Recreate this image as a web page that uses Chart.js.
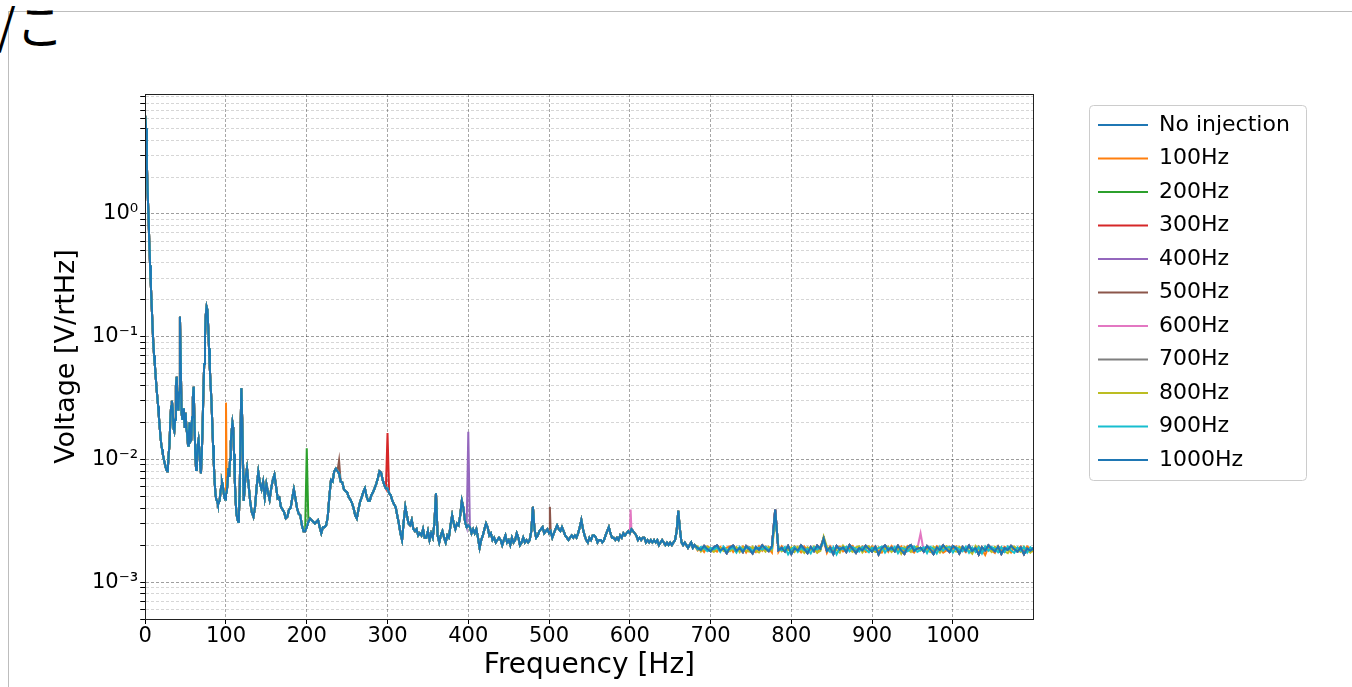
<!DOCTYPE html>
<html>
<head>
<meta charset="utf-8">
<script src="https://cdn.jsdelivr.net/npm/chart.js@4.4.0/dist/chart.umd.min.js"></script>
<style>
  html, body { margin: 0; padding: 0; background: #fff; overflow: hidden; }
  #lineTop { position: absolute; left: 8px; top: 11px; width: 1344px; height: 1px; background: #bdbdbd; }
  #lineLeft { position: absolute; left: 8px; top: 11px; width: 1px; height: 676px; background: #bdbdbd; }
  #note { position: absolute; left: -3px; top: -1px; font: 48px/1 "Noto Sans CJK JP"; color: #000; }
  #wrap { position: absolute; left: 0; top: 0; width: 1352px; height: 687px; }
</style>
</head>
<body>
<div id="lineTop"></div>
<div id="lineLeft"></div>
<div id="note">/こ</div>
<div id="wrap"><canvas id="spec"></canvas></div>
<script>
const seriesNames = ["No injection", "100Hz", "200Hz", "300Hz", "400Hz", "500Hz",
  "600Hz", "700Hz", "800Hz", "900Hz", "1000Hz"];
const seriesColors = ["#1f77b4", "#ff7f0e", "#2ca02c", "#d62728", "#9467bd", "#8c564b",
  "#e377c2", "#7f7f7f", "#bcbd22", "#17becf", "#1f77b4"];

// shared spectrum, 1 Hz bins from 0 to 120 Hz
const lowStart = 0, lowStep = 1;
const lowVals = [
  6.3, 5.0, 2.6, 1.5, 1.0, 0.6, 0.38, 0.26, 0.18, 0.125,
  0.089, 0.07, 0.058, 0.047, 0.038, 0.032, 0.027, 0.022, 0.018, 0.015,
  0.013, 0.012, 0.0108, 0.0100, 0.0094, 0.0088, 0.0083, 0.0080, 0.0084, 0.011,
  0.013, 0.020, 0.027, 0.030, 0.026, 0.018, 0.017, 0.021, 0.040, 0.047,
  0.030, 0.025, 0.035, 0.145, 0.06, 0.024, 0.021, 0.026, 0.023, 0.018,
  0.024, 0.018, 0.016, 0.013, 0.0155, 0.020, 0.014, 0.0144, 0.022, 0.032,
  0.039, 0.020, 0.011, 0.0082, 0.010, 0.013, 0.0144, 0.012, 0.009, 0.0077,
  0.011, 0.018, 0.035, 0.06, 0.10, 0.15, 0.175, 0.165, 0.12, 0.08,
  0.055, 0.040, 0.030, 0.020, 0.013, 0.009, 0.0065, 0.0052, 0.0047, 0.0046,
  0.0043, 0.0044, 0.0046, 0.0052, 0.0060, 0.0066, 0.0062, 0.0054, 0.0049, 0.0047,
  0.0052, 0.0055, 0.0065, 0.0085, 0.0072, 0.010, 0.014, 0.017, 0.020, 0.018,
  0.011, 0.0065, 0.0045, 0.0036, 0.0033, 0.0031, 0.0035, 0.0055, 0.016, 0.038,
  0.022
];
// 2 Hz bins from 122 to 680 Hz
const midStart = 122, midStep = 2;
const midVals = [
  0.0046, 0.0070, 0.0085, 0.0062, 0.0045, 0.0037, 0.0034, 0.0041, 0.0060, 0.0079,
  0.0064, 0.0057, 0.0066, 0.0049, 0.0063, 0.0054, 0.0047, 0.0058, 0.0068, 0.0075,
  0.0060, 0.0048, 0.0049, 0.0041, 0.0039, 0.0037, 0.0033, 0.0034, 0.0039, 0.0040,
  0.0048, 0.0057, 0.0048, 0.0040, 0.0036, 0.0035, 0.0029, 0.0026, 0.0026, 0.0028,
  0.0031, 0.0033, 0.0032, 0.0031, 0.0030, 0.0031, 0.0032, 0.0028, 0.0025, 0.0028,
  0.0028, 0.0029, 0.0034, 0.0050, 0.0068, 0.0066, 0.0080, 0.0084, 0.0080, 0.0077,
  0.0066, 0.0065, 0.0057, 0.0055, 0.0054, 0.0049, 0.0047, 0.0044, 0.0040, 0.0035,
  0.0033, 0.0039, 0.0045, 0.0049, 0.0054, 0.0058, 0.0050, 0.0046, 0.0046, 0.0051,
  0.0054, 0.0058, 0.0063, 0.0070, 0.0080, 0.0078, 0.0068, 0.0062, 0.0058, 0.0058,
  0.0053, 0.0051, 0.0046, 0.0043, 0.0041, 0.0035, 0.0030, 0.0025, 0.0022, 0.0031,
  0.0041, 0.0035, 0.0030, 0.0029, 0.0032, 0.0027, 0.0026, 0.0027, 0.0024, 0.0025,
  0.0024, 0.0027, 0.0023, 0.0023, 0.0026, 0.0022, 0.0025, 0.0023, 0.0030, 0.0053,
  0.0024, 0.0021, 0.0024, 0.0026, 0.0023, 0.0021, 0.0024, 0.0023, 0.0029, 0.0035,
  0.0030, 0.0027, 0.0030, 0.0029, 0.0035, 0.0046, 0.0040, 0.0031, 0.0028, 0.0029,
  0.0028, 0.0025, 0.0027, 0.0025, 0.0027, 0.0023, 0.0019, 0.0022, 0.0024, 0.0027,
  0.0030, 0.0028, 0.0024, 0.0025, 0.0022, 0.0023, 0.0021, 0.0022, 0.0023, 0.0022,
  0.0020, 0.0022, 0.0024, 0.0021, 0.0022, 0.0020, 0.0023, 0.0021, 0.0022, 0.0025,
  0.0023, 0.0020, 0.0021, 0.0023, 0.0021, 0.0022, 0.0021, 0.0022, 0.0026, 0.0041,
  0.0027, 0.0023, 0.0024, 0.0026, 0.0027, 0.0028, 0.0025, 0.0026, 0.0027, 0.0025,
  0.0026, 0.0023, 0.0025, 0.0027, 0.0029, 0.0027, 0.0026, 0.0028, 0.0026, 0.0024,
  0.0023, 0.0022, 0.0023, 0.0024, 0.0023, 0.0024, 0.0023, 0.0025, 0.0028, 0.0032,
  0.0027, 0.0024, 0.0022, 0.0021, 0.0023, 0.0022, 0.0024, 0.0024, 0.0023, 0.0021,
  0.0022, 0.0022, 0.0021, 0.0022, 0.0024, 0.0026, 0.0028, 0.0025, 0.0023, 0.0023,
  0.0022, 0.0023, 0.0022, 0.0024, 0.0023, 0.0025, 0.0024, 0.0025, 0.0026, 0.0025,
  0.0027, 0.0026, 0.0025, 0.0024, 0.0022, 0.0023, 0.0022, 0.0023, 0.0023, 0.0021,
  0.0022, 0.0021, 0.0022, 0.0021, 0.0022, 0.0021, 0.0022, 0.0020, 0.0021, 0.0022,
  0.0021, 0.0020, 0.0021, 0.0020, 0.0021, 0.0020, 0.0021, 0.0022, 0.0026, 0.0038,
  0.0027, 0.0021, 0.0020, 0.0021, 0.0020, 0.0019, 0.0020, 0.0021, 0.0019, 0.0020
];
// 4 Hz bins from 684 to 1100 Hz (floor of the 1000Hz / no-injection traces)
const highStart = 684, highStep = 4;
const highVals = [
  0.00190, 0.00182, 0.00197, 0.00186, 0.00178, 0.00192, 0.00199, 0.00181, 0.00188, 0.00172,
  0.00191, 0.00198, 0.00180, 0.00189, 0.00176, 0.00196, 0.00185, 0.00171, 0.00193, 0.00183,
  0.00199, 0.00187, 0.00179, 0.00196, 0.00390, 0.00182, 0.00190, 0.00177, 0.00197, 0.00170,
  0.00188, 0.00181, 0.00199, 0.00186, 0.00172, 0.00193, 0.00179, 0.00198, 0.00187, 0.00228,
  0.00180, 0.00191, 0.00169, 0.00197, 0.00183, 0.00192, 0.00176, 0.00200, 0.00186, 0.00173,
  0.00190, 0.00181, 0.00198, 0.00187, 0.00177, 0.00194, 0.00168, 0.00189, 0.00199, 0.00182,
  0.00191, 0.00178, 0.00197, 0.00181, 0.00170, 0.00192, 0.00200, 0.00180, 0.00188, 0.00190,
  0.00177, 0.00196, 0.00185, 0.00169, 0.00191, 0.00182, 0.00199, 0.00186, 0.00176, 0.00197,
  0.00188, 0.00171, 0.00193, 0.00180, 0.00198, 0.00179, 0.00190, 0.00168, 0.00192, 0.00181,
  0.00199, 0.00187, 0.00178, 0.00194, 0.00170, 0.00189, 0.00183, 0.00197, 0.00186, 0.00177,
  0.00191, 0.00169, 0.00188, 0.00180, 0.00190
];
// floor of the 100Hz trace, same bins
const highVals100 = [
  0.00181, 0.00190, 0.00176, 0.00195, 0.00189, 0.00183, 0.00177, 0.00194, 0.00182, 0.00191,
  0.00196, 0.00176, 0.00190, 0.00183, 0.00195, 0.00174, 0.00193, 0.00188, 0.00176, 0.00196,
  0.00180, 0.00195, 0.00188, 0.00174, 0.00370, 0.00176, 0.00196, 0.00184, 0.00190, 0.00180,
  0.00196, 0.00187, 0.00175, 0.00195, 0.00181, 0.00190, 0.00185, 0.00174, 0.00196, 0.00220,
  0.00173, 0.00196, 0.00180, 0.00191, 0.00195, 0.00178, 0.00190, 0.00186, 0.00197, 0.00180,
  0.00185, 0.00195, 0.00176, 0.00181, 0.00195, 0.00186, 0.00180, 0.00174, 0.00192, 0.00176,
  0.00197, 0.00183, 0.00181, 0.00195, 0.00177, 0.00196, 0.00181, 0.00174, 0.00192, 0.00186,
  0.00183, 0.00190, 0.00177, 0.00180, 0.00196, 0.00188, 0.00174, 0.00181, 0.00195, 0.00187,
  0.00195, 0.00180, 0.00186, 0.00175, 0.00192, 0.00186, 0.00181, 0.00196, 0.00184, 0.00166,
  0.00193, 0.00181, 0.00173, 0.00196, 0.00182, 0.00194, 0.00187, 0.00174, 0.00192, 0.00187,
  0.00195, 0.00178, 0.00195, 0.00186, 0.00176
];
// floor of the 800Hz trace
const highVals800 = [
  0.00195, 0.00177, 0.00189, 0.00194, 0.00183, 0.00176, 0.00191, 0.00190, 0.00179, 0.00186,
  0.00178, 0.00187, 0.00193, 0.00175, 0.00192, 0.00180, 0.00177, 0.00194, 0.00180, 0.00174,
  0.00188, 0.00177, 0.00194, 0.00182, 0.00350, 0.00194, 0.00178, 0.00186, 0.00182, 0.00192,
  0.00176, 0.00194, 0.00183, 0.00173, 0.00192, 0.00183, 0.00195, 0.00174, 0.00180, 0.00235,
  0.00194, 0.00181, 0.00186, 0.00183, 0.00174, 0.00198, 0.00185, 0.00183, 0.00176, 0.00192,
  0.00196, 0.00174, 0.00187, 0.00196, 0.00183, 0.00176, 0.00192, 0.00180, 0.00186, 0.00194,
  0.00176, 0.00186, 0.00191, 0.00170, 0.00194, 0.00185, 0.00176, 0.00192, 0.00195, 0.00180,
  0.00188, 0.00183, 0.00176, 0.00194, 0.00186, 0.00174, 0.00190, 0.00196, 0.00184, 0.00181,
  0.00177, 0.00194, 0.00184, 0.00192, 0.00181, 0.00170, 0.00197, 0.00183, 0.00180, 0.00194,
  0.00185, 0.00176, 0.00194, 0.00184, 0.00192, 0.00178, 0.00172, 0.00190, 0.00195, 0.00183,
  0.00176, 0.00194, 0.00182, 0.00174, 0.00186
];
// floor of the 900Hz trace
const highVals900 = [
  0.00184, 0.00193, 0.00188, 0.00179, 0.00190, 0.00185, 0.00191, 0.00176, 0.00195, 0.00181,
  0.00186, 0.00190, 0.00174, 0.00194, 0.00182, 0.00188, 0.00192, 0.00179, 0.00186, 0.00191,
  0.00184, 0.00194, 0.00183, 0.00188, 0.00360, 0.00188, 0.00182, 0.00193, 0.00168, 0.00185,
  0.00194, 0.00176, 0.00190, 0.00181, 0.00186, 0.00171, 0.00192, 0.00184, 0.00194, 0.00212,
  0.00188, 0.00176, 0.00193, 0.00168, 0.00190, 0.00185, 0.00194, 0.00178, 0.00192, 0.00186,
  0.00177, 0.00193, 0.00184, 0.00175, 0.00191, 0.00183, 0.00189, 0.00195, 0.00174, 0.00190,
  0.00183, 0.00194, 0.00172, 0.00190, 0.00186, 0.00178, 0.00188, 0.00195, 0.00176, 0.00183,
  0.00192, 0.00172, 0.00194, 0.00186, 0.00171, 0.00195, 0.00180, 0.00190, 0.00193, 0.00174,
  0.00192, 0.00185, 0.00178, 0.00194, 0.00173, 0.00191, 0.00176, 0.00193, 0.00171, 0.00195,
  0.00180, 0.00193, 0.00187, 0.00175, 0.00193, 0.00176, 0.00195, 0.00181, 0.00173, 0.00192,
  0.00180, 0.00193, 0.00174, 0.00192, 0.00182
];
const floorSeries = [1, 8, 9];
const floorVals = [highVals100, highVals800, highVals900];

// lines that show up in one trace only: series index, frequency [Hz], value
const spikeSeries = [1, 2, 3, 4, 5, 5, 6, 6];
const spikeFreq = [100, 200, 300, 400, 240, 501, 601, 960];
const spikeVal = [0.029, 0.0123, 0.0164, 0.0168, 0.0098, 0.0041, 0.0039, 0.0025];

const supChars = {"-": "⁻", "0": "⁰", "1": "¹", "2": "²", "3": "³", "4": "⁴",
  "5": "⁵", "6": "⁶", "7": "⁷", "8": "⁸", "9": "⁹"};

function mantissa(v) {
  const e = Math.floor(Math.log10(v) + 1e-9);
  return v / Math.pow(10, e);
}
function isDecade(v) { return Math.abs(mantissa(v) - 1) < 1e-6; }
function isWhole(v) { const m = mantissa(v); return Math.abs(m - Math.round(m)) < 1e-6; }

function spectrumFor(s) {
  const k = floorSeries.indexOf(s);
  const high = k >= 0 ? floorVals[k] : highVals;
  const pts = [];
  lowVals.forEach((v, i) => pts.push({x: lowStart + i * lowStep, y: v}));
  midVals.forEach((v, i) => pts.push({x: midStart + i * midStep, y: v}));
  high.forEach((v, i) => pts.push({x: highStart + i * highStep, y: v}));
  return pts;
}

const datasets = seriesNames.map((name, s) => {
  const pts = spectrumFor(s);
  spikeSeries.forEach((k, j) => {
    if (k !== s) return;
    const hit = pts.find(p => p.x === spikeFreq[j]);
    if (hit) hit.y = spikeVal[j];
    else pts.push({x: spikeFreq[j], y: spikeVal[j]});
  });
  pts.sort((a, b) => a.x - b.x);
  return {
    label: name,
    data: pts,
    borderColor: seriesColors[s],
    backgroundColor: seriesColors[s],
    borderWidth: 2,
    pointRadius: 0,
    tension: 0,
    order: seriesNames.length - s  // later traces drawn on top, like matplotlib
  };
});

const LEG_PAD = 11.5;

const framePlugin = {
  id: "frames",
  afterLayout(chart) {
    // move the legend to where matplotlib put it
    const lg = chart.legend;
    const dx = (1098 - LEG_PAD) - lg.left;
    const dy = (114 - LEG_PAD) - lg.top;
    lg.left += dx; lg.right += dx;
    lg.top += dy; lg.bottom += dy;
  },
  beforeDraw(chart) {
    const lg = chart.legend;
    const ctx = chart.ctx;
    const x = lg.left + LEG_PAD - 9, y = lg.top + LEG_PAD - 9;
    ctx.save();
    ctx.fillStyle = "rgba(255,255,255,0.8)";
    ctx.strokeStyle = "#cccccc";
    ctx.lineWidth = 1;
    ctx.beginPath();
    ctx.roundRect(x + 0.5, y + 0.5, 217, 375, 4);
    ctx.fill();
    ctx.stroke();
    ctx.restore();
  },
  afterDraw(chart) {
    const a = chart.chartArea;
    const ctx = chart.ctx;
    ctx.save();
    ctx.strokeStyle = "#222";
    ctx.lineWidth = 1;
    ctx.strokeRect(Math.round(a.left) + 0.5, Math.round(a.top) + 0.5,
      Math.round(a.right - a.left), Math.round(a.bottom - a.top));
    ctx.restore();
  }
};

Chart.defaults.font.family = "DejaVu Sans";
Chart.defaults.color = "#000";

new Chart(document.getElementById("spec"), {
  type: "line",
  data: {datasets: datasets},
  options: {
    responsive: true,
    maintainAspectRatio: false,
    animation: false,
    events: [],
    layout: {padding: {left: 39, top: 94, right: 105, bottom: 7}},
    plugins: {
      tooltip: {enabled: false},
      legend: {
        position: "right",
        align: "start",
        labels: {
          usePointStyle: true,
          pointStyle: "line",
          pointStyleWidth: 50,
          padding: LEG_PAD,
          font: {size: 22},
          color: "#000",
          sort: (a, b) => a.datasetIndex - b.datasetIndex
        }
      }
    },
    scales: {
      x: {
        type: "linear",
        min: 0,
        max: 1100,
        ticks: {
          stepSize: 100,
          autoSkip: false,
          maxRotation: 0,
          padding: 2,
          font: {size: 21, lineHeight: 1},
          callback: v => (v === 1100 ? "" : String(v))
        },
        grid: {
          color: c => (c.tick && c.tick.value > 0 && c.tick.value < 1100) ? "rgba(0,0,0,0.35)" : "rgba(0,0,0,0)",
          tickColor: c => (c.tick && c.tick.value < 1100) ? "#000" : "rgba(0,0,0,0)",
          tickLength: 5,
          lineWidth: 1
        },
        border: {color: "#222", dash: [3, 2]},
        title: {display: true, text: "Frequency [Hz]", font: {size: 28, lineHeight: 1},
          padding: {top: 3, bottom: 0}}
      },
      y: {
        type: "logarithmic",
        min: 0.0005,
        max: 9.5,
        ticks: {
          autoSkip: false,
          padding: 2,
          font: {size: 21, lineHeight: 1},
          callback: v => {
            if (!isDecade(v)) return "";
            const e = String(Math.round(Math.log10(v)));
            return "10" + e.split("").map(ch => supChars[ch]).join("");
          }
        },
        grid: {
          color: c => {
            const v = c.tick && c.tick.value;
            if (!v || !isWhole(v)) return "rgba(0,0,0,0)";
            return isDecade(v) ? "rgba(0,0,0,0.38)" : "rgba(0,0,0,0.16)";
          },
          tickColor: c => {
            const v = c.tick && c.tick.value;
            return (v && isWhole(v)) ? "#000" : "rgba(0,0,0,0)";
          },
          tickLength: 5,
          lineWidth: 1
        },
        border: {color: "#222", dash: [3, 2]},
        title: {display: true, text: "Voltage [V/rtHz]", font: {size: 27, lineHeight: 1},
          padding: {top: 14.5, bottom: 9.5}}
      }
    }
  },
  plugins: [framePlugin]
});
</script>
</body>
</html>
